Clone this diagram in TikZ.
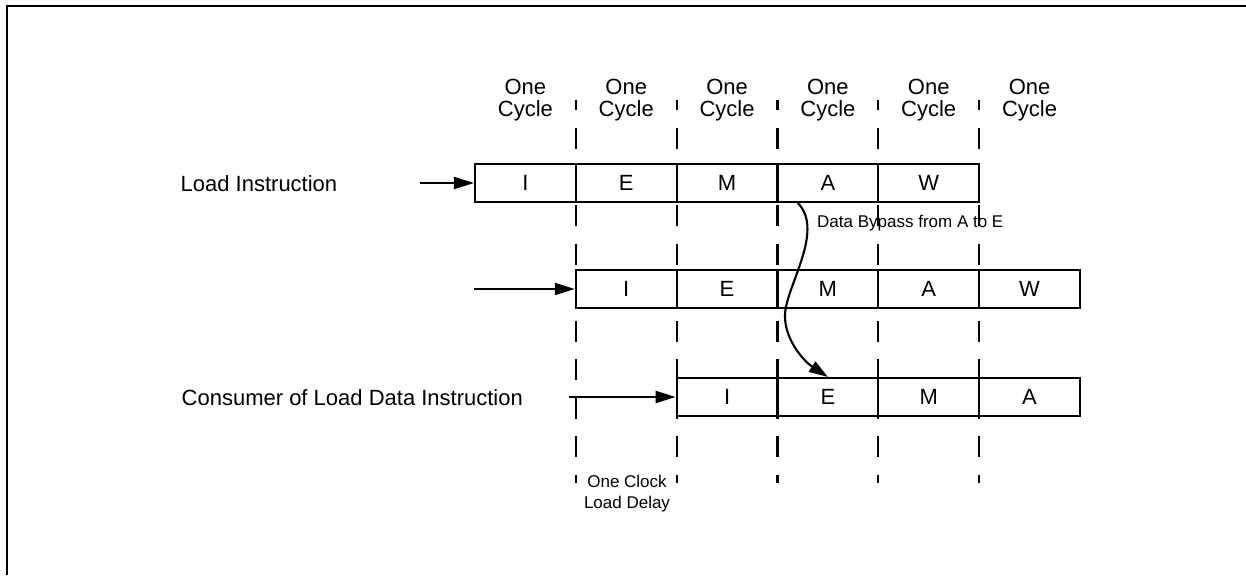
\documentclass[tikz,border=0pt]{standalone}
\usepackage{fontspec}
\setmainfont{Liberation Sans}
\usetikzlibrary{arrows.meta}
\begin{document}
\begin{tikzpicture}[x=1pt,y=-1pt,
  big/.style={font=\fontsize{22}{21.7}\selectfont},
  small/.style={font=\fontsize{17}{21}\selectfont},
  cell/.style={draw, line width=2.1pt, fill=white, minimum width=100.83pt,
    minimum height=38pt, inner sep=0pt, big},
  gridline/.style={line width=2.1pt, dash pattern=on 21pt off 17.5pt, dash phase=10.5pt},
  feed/.style={line width=2.1pt, -{Triangle[length=20pt,width=12pt]}},
  bypass/.style={line width=2.1pt, -{Triangle[length=19pt,width=12pt]}},
  cyclelabel/.style={big, align=center, inner sep=0pt},
  rowlabel/.style={big, anchor=base west, inner sep=0pt},
  outline/.style={line width=2.5pt}
]
\useasboundingbox (0,0) rectangle (1246,575);

% frame
\draw[outline] (7,575) -- (7,6) -- (1246,6);

% cycle boundaries
\foreach \i in {1,...,5}
  \draw[gridline] ({475+100.83*\i},100) -- ({475+100.83*\i},483);

% cycle headings
\foreach \i in {0,...,5}
  \node[cyclelabel] (cyc\i) at ({525.4+100.83*\i},100.3) {One\\Cycle};

% pipeline stages
\foreach \l [count=\k from 0] in {I,E,M,A,W}
  \node[cell] (r1\l) at ({525.4+100.83*\k},183) {\l};
\foreach \l [count=\k from 1] in {I,E,M,A,W}
  \node[cell] (r2\l) at ({525.4+100.83*\k},289) {\l};
\foreach \l [count=\k from 2] in {I,E,M,A}
  \node[cell] (r3\l) at ({525.4+100.83*\k},397) {\l};

% row labels
\node[rowlabel] (loadlbl) at (180.5,191) {Load Instruction};
\node[rowlabel] (conslbl) at (181.5,405) {Consumer of Load Data Instruction};

% issue arrows
\coordinate (in1) at (420,183);
\coordinate (in2) at (474,289);
\coordinate (in3) at (569,397);
\draw[feed] (in1) -- (r1I.west);
\draw[feed] (in2) -- (r2I.west);
\draw[feed] (in3) -- (r3I.west);

% data bypass
\coordinate (c1) at (826,232);
\coordinate (c2) at (783,290);
\coordinate (mid) at (785,318);
\coordinate (c3) at (786,342);
\coordinate (c4) at (805,362);
\draw[bypass] ([xshift=-30pt]r1A.south) .. controls (c1) and (c2) .. (mid)
  .. controls (c3) and (c4) .. (r3E.north);
\node[small, anchor=base west, inner sep=0pt] (bylbl) at (817,227.5) {Data Bypass from A to E};

% load delay note
\node[small, align=center, inner sep=0pt] (delay) at (627,494) {One Clock\\Load Delay};
\end{tikzpicture}
\end{document}
